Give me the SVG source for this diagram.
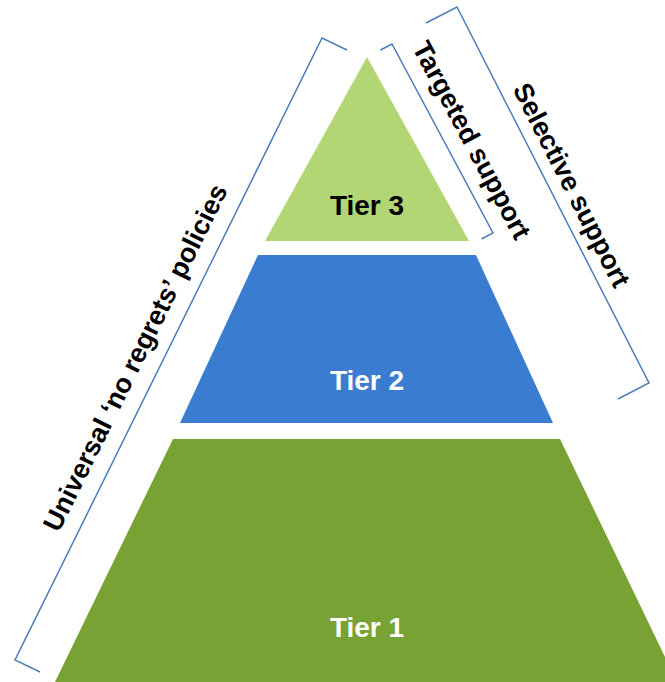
<svg xmlns="http://www.w3.org/2000/svg" width="665" height="682" viewBox="0 0 665 682">
<style>
.tier{font-family:"Liberation Sans",Arial,sans-serif;font-weight:bold;font-size:28px;text-anchor:middle}
.lbl{font-family:"Liberation Sans",Arial,sans-serif;font-weight:bold;font-size:27px;text-anchor:middle;fill:#000}
.br{fill:none;stroke:#4A7EBB;stroke-width:1.5;stroke-linejoin:miter}
</style>
<rect width="665" height="682" fill="#fff"/>
<g id="tier1">
<polygon points="173,439 560,439 677,682 55,682" fill="#78A233"/>
<text class="tier" x="367" y="637" fill="#fff">Tier 1</text>
</g>
<g id="tier2">
<polygon points="258,255 476,255 553,423 180,423" fill="#3A7DD0"/>
<text class="tier" x="367" y="390" fill="#fff">Tier 2</text>
</g>
<g id="tier3">
<polygon points="367,57 469,241 265,241" fill="#B3D675"/>
<text class="tier" x="367" y="215" fill="#000">Tier 3</text>
</g>
<g id="connectors">
<polyline class="br" points="347,50 322,38 15,660 40,672"/>
<polyline class="br" points="380.5,50 392,44 493,233 481.5,239"/>
<polyline class="br" points="426,23 457,7 649,383 618,399"/>
</g>
<g id="label-universal">
<text class="lbl" transform="translate(143.5,361.7) rotate(-63.73)">Universal ‘no regrets’ policies</text>
</g>
<g id="label-targeted">
<text class="lbl" transform="translate(463.6,144.5) rotate(61.9)">Targeted support</text>
</g>
<g id="label-selective">
<text class="lbl" transform="translate(563.5,189.3) rotate(62.95)">Selective support</text>
</g>
</svg>
